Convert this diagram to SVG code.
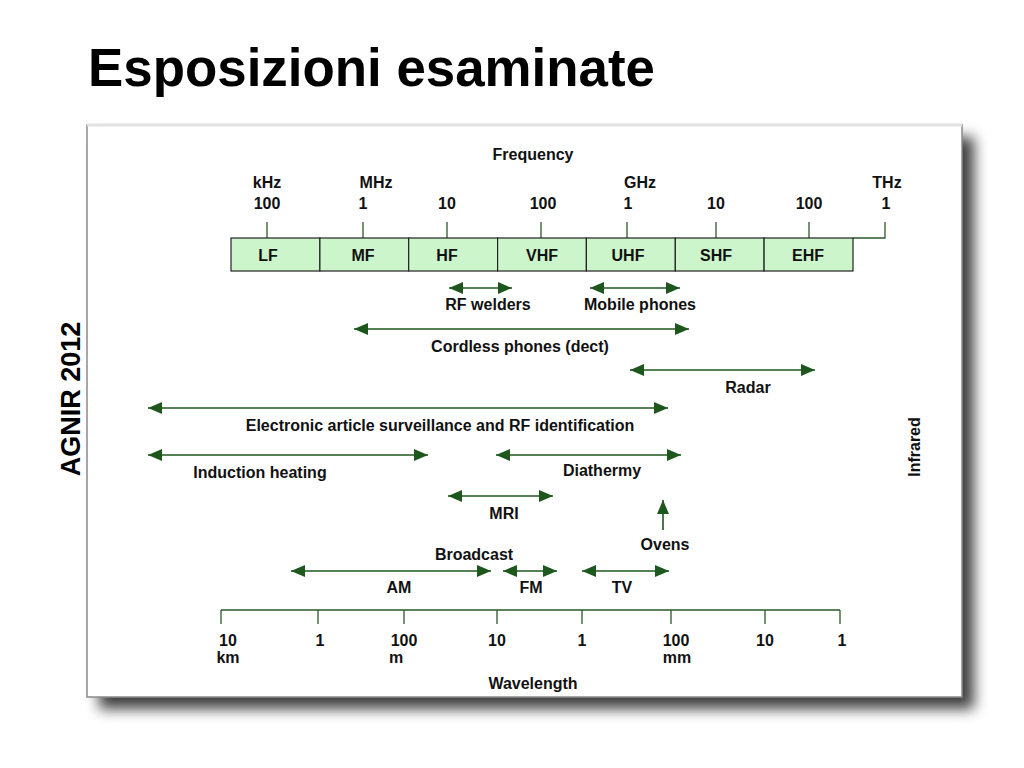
<svg xmlns="http://www.w3.org/2000/svg" width="1024" height="768" viewBox="0 0 1024 768">
<defs>
<style>
.t{font-family:"Liberation Sans",Arial,sans-serif;font-weight:bold;font-size:16px;fill:#111;text-anchor:middle}
.band{fill:#ccf5cc;stroke:#222;stroke-width:1.2}
.tick{stroke:#2a5a2a;stroke-width:1.3;fill:none}
.arr{stroke:#1e571e;stroke-width:1.6;fill:none;marker-start:url(#ah);marker-end:url(#ah)}
.arr1{stroke:#1e571e;stroke-width:1.6;fill:none;marker-end:url(#ah)}
</style>
<marker id="ah" viewBox="0 0 14 12" refX="14" refY="6" markerWidth="14" markerHeight="12" markerUnits="userSpaceOnUse" orient="auto-start-reverse">
<path d="M0,0 L14,6 L0,12 z" fill="#1e571e"/>
</marker>
<filter id="sh" x="-5%" y="-5%" width="115%" height="120%">
<feGaussianBlur in="SourceAlpha" stdDeviation="7"/>
<feOffset dx="12" dy="12" result="b"/>
<feComponentTransfer><feFuncA type="linear" slope="0.75"/></feComponentTransfer>
<feMerge><feMergeNode/><feMergeNode in="SourceGraphic"/></feMerge>
</filter>
</defs>
<rect width="1024" height="768" fill="#fff"/>
<text x="88" y="86" font-family="'Liberation Sans',Arial,sans-serif" font-weight="bold" font-size="54" textLength="567" lengthAdjust="spacingAndGlyphs" fill="#000">Esposizioni esaminate</text>
<text transform="translate(80,399) rotate(-90)" font-family="'Liberation Sans',Arial,sans-serif" font-weight="bold" font-size="27" text-anchor="middle" fill="#000">AGNIR 2012</text>
<g id="frame">
<rect x="87" y="125" width="875" height="572" fill="#fff" filter="url(#sh)"/>
<rect x="87" y="125" width="875" height="572" fill="none" stroke="#8a8a8a" stroke-width="1.5"/>
<line x1="87" y1="125" x2="962" y2="125" stroke="#e2e2e2" stroke-width="3"/>
</g>
<g id="frequency-axis">
<text class="t" x="533" y="160">Frequency</text>
<text class="t" x="267" y="188">kHz</text>
<text class="t" x="376" y="188">MHz</text>
<text class="t" x="640" y="188">GHz</text>
<text class="t" x="887" y="188">THz</text>
<text class="t" x="267" y="209">100</text>
<text class="t" x="363" y="209">1</text>
<text class="t" x="447" y="209">10</text>
<text class="t" x="543" y="209">100</text>
<text class="t" x="628" y="209">1</text>
<text class="t" x="716" y="209">10</text>
<text class="t" x="809" y="209">100</text>
<text class="t" x="886" y="209">1</text>
<path class="tick" d="M267,222V238 M363,222V238 M447,222V238 M541,222V238 M627,222V238 M716,222V238 M809,222V238 M885,222V238H853"/>
</g>
<g id="band-LF"><rect class="band" x="231" y="238" width="88.9" height="33"/><text class="t" x="268" y="261">LF</text></g>
<g id="band-MF"><rect class="band" x="319.9" y="238" width="88.8" height="33"/><text class="t" x="363" y="261">MF</text></g>
<g id="band-HF"><rect class="band" x="408.7" y="238" width="88.9" height="33"/><text class="t" x="447" y="261">HF</text></g>
<g id="band-VHF"><rect class="band" x="497.6" y="238" width="88.8" height="33"/><text class="t" x="542" y="261">VHF</text></g>
<g id="band-UHF"><rect class="band" x="586.4" y="238" width="88.9" height="33"/><text class="t" x="628" y="261">UHF</text></g>
<g id="band-SHF"><rect class="band" x="675.3" y="238" width="88.8" height="33"/><text class="t" x="716" y="261">SHF</text></g>
<g id="band-EHF"><rect class="band" x="764.1" y="238" width="88.9" height="33"/><text class="t" x="808" y="261">EHF</text></g>
<g id="connectors">
<line class="arr" x1="449" y1="288" x2="512" y2="288"/>
<line class="arr" x1="590" y1="288" x2="680" y2="288"/>
<line class="arr" x1="354" y1="329" x2="689" y2="329"/>
<line class="arr" x1="630" y1="370" x2="815" y2="370"/>
<line class="arr" x1="148" y1="408" x2="668" y2="408"/>
<line class="arr" x1="148" y1="455" x2="428" y2="455"/>
<line class="arr" x1="496" y1="455" x2="681" y2="455"/>
<line class="arr" x1="448" y1="496" x2="553" y2="496"/>
<line class="arr1" x1="663" y1="530" x2="663" y2="500"/>
<line class="arr" x1="291" y1="571" x2="491" y2="571"/>
<line class="arr" x1="503" y1="571" x2="557" y2="571"/>
<line class="arr" x1="582" y1="571" x2="669" y2="571"/>
</g>
<g id="rf-welders"><text class="t" x="488" y="310">RF welders</text></g>
<g id="mobile-phones"><text class="t" x="640" y="310">Mobile phones</text></g>
<g id="cordless"><text class="t" x="520" y="352">Cordless phones (dect)</text></g>
<g id="radar"><text class="t" x="748" y="393">Radar</text></g>
<g id="eas"><text class="t" x="440" y="431">Electronic article surveillance and RF identification</text></g>
<g id="induction"><text class="t" x="260" y="478">Induction heating</text></g>
<g id="diathermy"><text class="t" x="602" y="476">Diathermy</text></g>
<g id="mri"><text class="t" x="504" y="519">MRI</text></g>
<g id="ovens"><text class="t" x="665" y="550">Ovens</text></g>
<g id="broadcast"><text class="t" x="474" y="560">Broadcast</text></g>
<g id="am"><text class="t" x="399" y="593">AM</text></g>
<g id="fm"><text class="t" x="531" y="593">FM</text></g>
<g id="tv"><text class="t" x="622" y="593">TV</text></g>
<g id="infrared"><text class="t" transform="translate(920,447) rotate(-90)">Infrared</text></g>
<g id="wavelength-axis">
<path class="tick" d="M221,610H840 M221,610V624 M318,610V624 M404,610V624 M497,610V624 M582,610V624 M671,610V624 M765,610V624 M840,610V624"/>
<text class="t" x="228" y="646">10</text>
<text class="t" x="228" y="663">km</text>
<text class="t" x="320" y="646">1</text>
<text class="t" x="404" y="646">100</text>
<text class="t" x="396" y="663">m</text>
<text class="t" x="497" y="646">10</text>
<text class="t" x="582" y="646">1</text>
<text class="t" x="676" y="646">100</text>
<text class="t" x="677" y="663">mm</text>
<text class="t" x="765" y="646">10</text>
<text class="t" x="842" y="646">1</text>
<text class="t" x="533" y="689">Wavelength</text>
</g>
</svg>
